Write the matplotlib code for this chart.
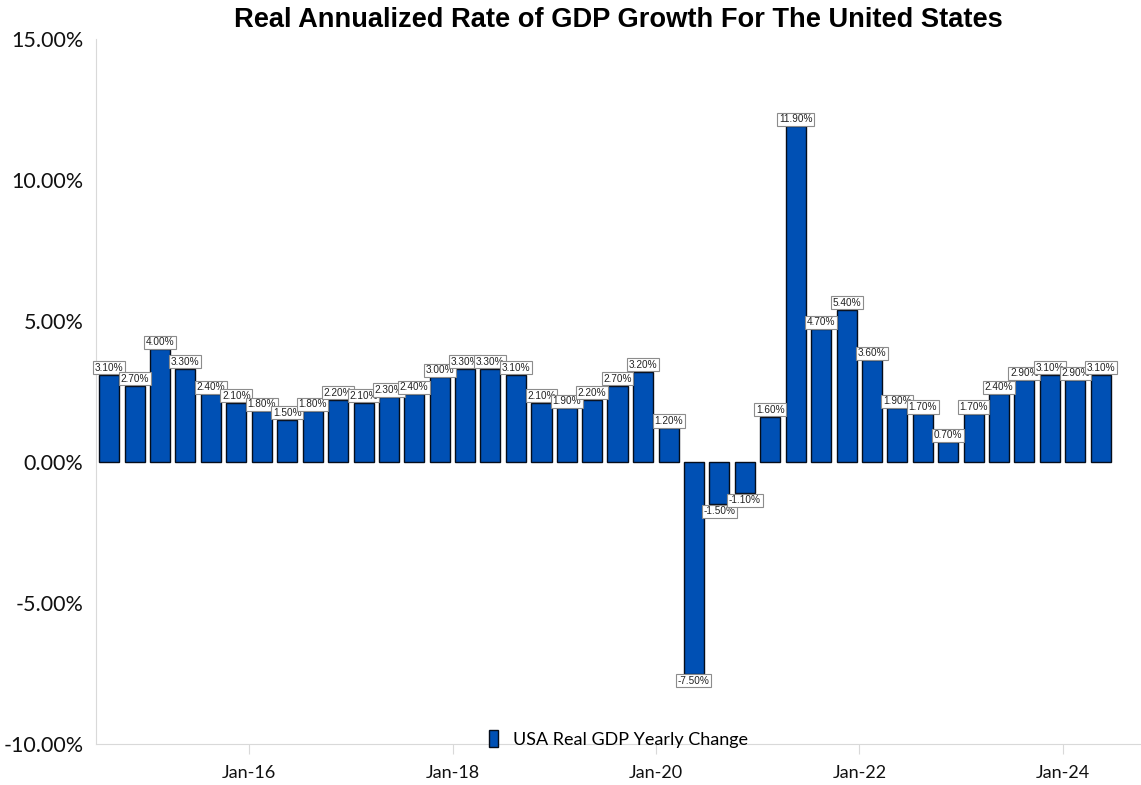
import pandas as pd
import matplotlib
matplotlib.use("Agg")
import matplotlib.pyplot as plt
import matplotlib.dates as mdates
from matplotlib.ticker import FuncFormatter

# -----------------------------
# Data (year-over-year real GDP change, quarterly)
# -----------------------------
first_quarter = "2014Q3"
gdp_change = [
    3.1, 2.7, 4.0, 3.3, 2.4, 2.1, 1.8, 1.5, 1.8, 2.2,
    2.1, 2.3, 2.4, 3.0, 3.3, 3.3, 3.1, 2.1, 1.9, 2.2,
    2.7, 3.2, 1.2, -7.5, -1.5, -1.1, 1.6, 11.9, 4.7, 5.4,
    3.6, 1.9, 1.7, 0.7, 1.7, 2.4, 2.9, 3.1, 2.9, 3.1,
]
tick_years = [2016, 2018, 2020, 2022, 2024]
series_name = "USA Real GDP Yearly Change"
title = "Real Annualized Rate of GDP Growth For The United States"

BAR_COLOR = "#0050b4"

# bars sit in the middle of each quarter
quarters = pd.period_range(first_quarter, periods=len(gdp_change), freq="Q")
mids = [p.start_time + (p.end_time - p.start_time) / 2 for p in quarters]

fig = plt.figure(figsize=(11.41, 7.85), dpi=100)
ax = fig.add_axes([0.0841, 0.0522, 0.9159, 0.8981])

bars = ax.bar(mids, gdp_change, width=72, color=BAR_COLOR,
              edgecolor="#050d1a", linewidth=1.0, label=series_name, zorder=2)

for x, v in zip(mids, gdp_change):
    off = 1.5 if v >= 0 else -1.5
    ax.annotate(f"{v:.2f}%", (x, v), xytext=(0, off), textcoords="offset points",
                ha="center", va="bottom" if v >= 0 else "top",
                fontsize=7.2, family="Liberation Sans", color="#222222",
                bbox=dict(boxstyle="square,pad=0.16", fc="white", ec="#8c8c8c", lw=0.8),
                zorder=3)

ax.set_ylim(-10, 15)
ax.set_yticks([-10, -5, 0, 5, 10, 15])
ax.yaxis.set_major_formatter(FuncFormatter(lambda v, _: f"{v:.2f}%"))
ax.tick_params(axis="y", length=0, pad=9, labelsize=15.5, labelcolor="#111111")

ax.set_xlim(pd.Timestamp("2014-06-30"), pd.Timestamp("2024-10-08"))
ax.set_xticks([pd.Timestamp(f"{y}-01-01") for y in tick_years])
ax.xaxis.set_major_formatter(mdates.DateFormatter("%b-%y"))
ax.tick_params(axis="x", length=7, color="#d9d9d9", pad=8, labelsize=13, labelcolor="#111111")

for lab in ax.get_xticklabels() + ax.get_yticklabels():
    lab.set_family("Lato")

for side in ["top", "right"]:
    ax.spines[side].set_visible(False)
ax.spines["left"].set_color("#d9d9d9")
ax.spines["bottom"].set_color("#d9d9d9")

ax.set_title(title, fontsize=19.6, fontweight="bold", family="Liberation Sans", pad=9)

ax.legend(loc="lower center", bbox_to_anchor=(0.5, -0.028), frameon=False,
          handlelength=0.5, handleheight=1.1, prop={"family": "Lato", "size": 13})

fig.savefig("out.png", dpi=100)
